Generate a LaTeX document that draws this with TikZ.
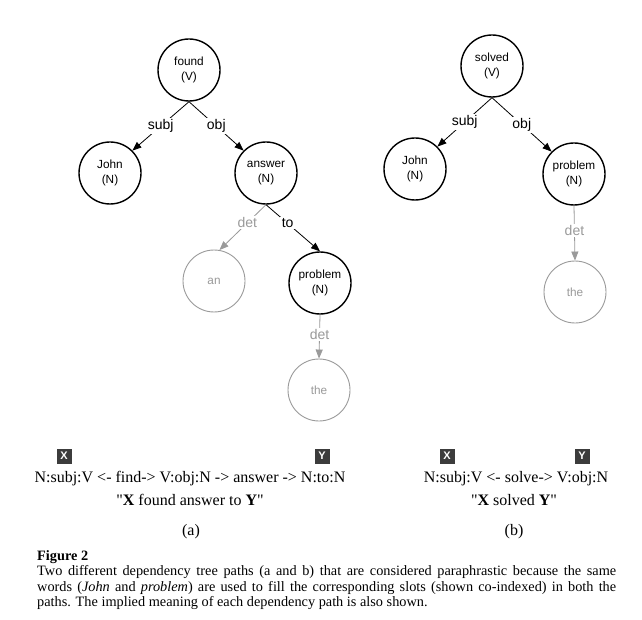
\documentclass[tikz,border=0pt]{standalone}
\usepackage{fontspec}
\setmainfont{Liberation Serif}
\setsansfont{Liberation Sans}
\newfontfamily\qfont{Liberation Serif}[Ligatures=TeXOff]
\usetikzlibrary{arrows.meta}
\definecolor{faintgray}{HTML}{9A9A9A}
\definecolor{boxgray}{HTML}{3C3C3C}
\newcommand{\dq}{{\qfont"}}
\begin{document}
\begin{tikzpicture}[x=1pt,y=-1pt,
  word/.style={circle,draw=black,line width=1.4pt,minimum size=62pt,inner sep=0pt,align=center,
    font=\sffamily\fontsize{11.8}{15}\selectfont},
  faint/.style={word,draw=faintgray,text=faintgray,line width=0.9pt},
  dep/.style={draw=black,line width=0.8pt,-{Triangle[length=9pt,width=7pt]}},
  depfaint/.style={dep,draw=faintgray},
  lab/.style={fill=white,inner sep=1.5pt,font=\sffamily\fontsize{14}{14}\selectfont},
  labfaint/.style={lab,text=faintgray},
  slot/.style={fill=boxgray,text=white,minimum size=15pt,inner sep=0pt,
    font=\sffamily\bfseries\fontsize{11}{11}\selectfont},
  pathtxt/.style={inner sep=0pt,font=\fontsize{16}{16}\selectfont}
]
\useasboundingbox (0,0) rectangle (642,620);
\fill[white] (0,0) rectangle (642,620);

% ---------- (a) ----------
\node[word]  (found)   at (189,70)  {found\\(V)};
\node[word]  (johna)   at (110,173) {John\\(N)};
\node[word]  (answer)  at (266,173) {answer\\(N)};
\node[faint] (an)      at (214,281) {an};
\node[word]  (proba)   at (320,283) {problem\\(N)};
\node[faint] (thea)    at (319,390) {the};

\draw[dep] (found.south) -- node[lab,pos=0.5] {subj} (johna.45);
\draw[dep] (found.south) -- node[lab,pos=0.5] {obj} (answer.135);
\draw[depfaint] (answer.south) -- node[labfaint,pos=0.4] {det} (an.80);
\draw[dep] (answer.south) -- node[lab,pos=0.4] {to} (proba.north);
\draw[depfaint] (proba.south) -- node[labfaint,pos=0.45] {det} (thea.north);

% ---------- (b) ----------
\node[word]  (solved)  at (492,66)  {solved\\(V)};
\node[word]  (johnb)   at (415,169) {John\\(N)};
\node[word]  (probb)   at (574,174) {problem\\(N)};
\node[faint] (theb)    at (575,292) {the};

\draw[dep] (solved.south) -- node[lab,pos=0.5] {subj} (johnb.45);
\draw[dep] (solved.south) -- node[lab,pos=0.5] {obj} (probb.135);
\draw[depfaint] (probb.south) -- node[labfaint,pos=0.45] {det} (theb.north);

% ---------- path descriptions ----------
\node[slot] (xa) at (64,456) {X};
\node[slot] (ya) at (322,456) {Y};
\node[pathtxt] (patha) at (190,479) {N:subj:V <- find-> V:obj:N -> answer -> N:to:N};
\node[pathtxt] (quotea) at (190,500) {\dq\textbf{X} found answer to \textbf{Y}\dq};
\node[pathtxt] (capa) at (191,532) {(a)};

\node[slot] (xb) at (447,456) {X};
\node[slot] (yb) at (582,456) {Y};
\node[pathtxt] (pathb) at (516,479) {N:subj:V <- solve-> V:obj:N};
\node[pathtxt] (quoteb) at (514,500) {\dq\textbf{X} solved \textbf{Y}\dq};
\node[pathtxt] (capb) at (514,532) {(b)};

% ---------- caption ----------
\node[anchor=north west,inner sep=0pt,text width=579pt,align=justify,
  font=\fontsize{14.3}{15.6}\selectfont] (caption) at (37,550)
{\textbf{Figure 2}\\
Two different dependency tree paths (a and b) that are considered paraphrastic because the same\linebreak
words (\textit{John} and \textit{problem}) are used to fill the corresponding slots (shown co-indexed) in both the\linebreak
paths. The implied meaning of each dependency path is also shown.};
\end{tikzpicture}
\end{document}
